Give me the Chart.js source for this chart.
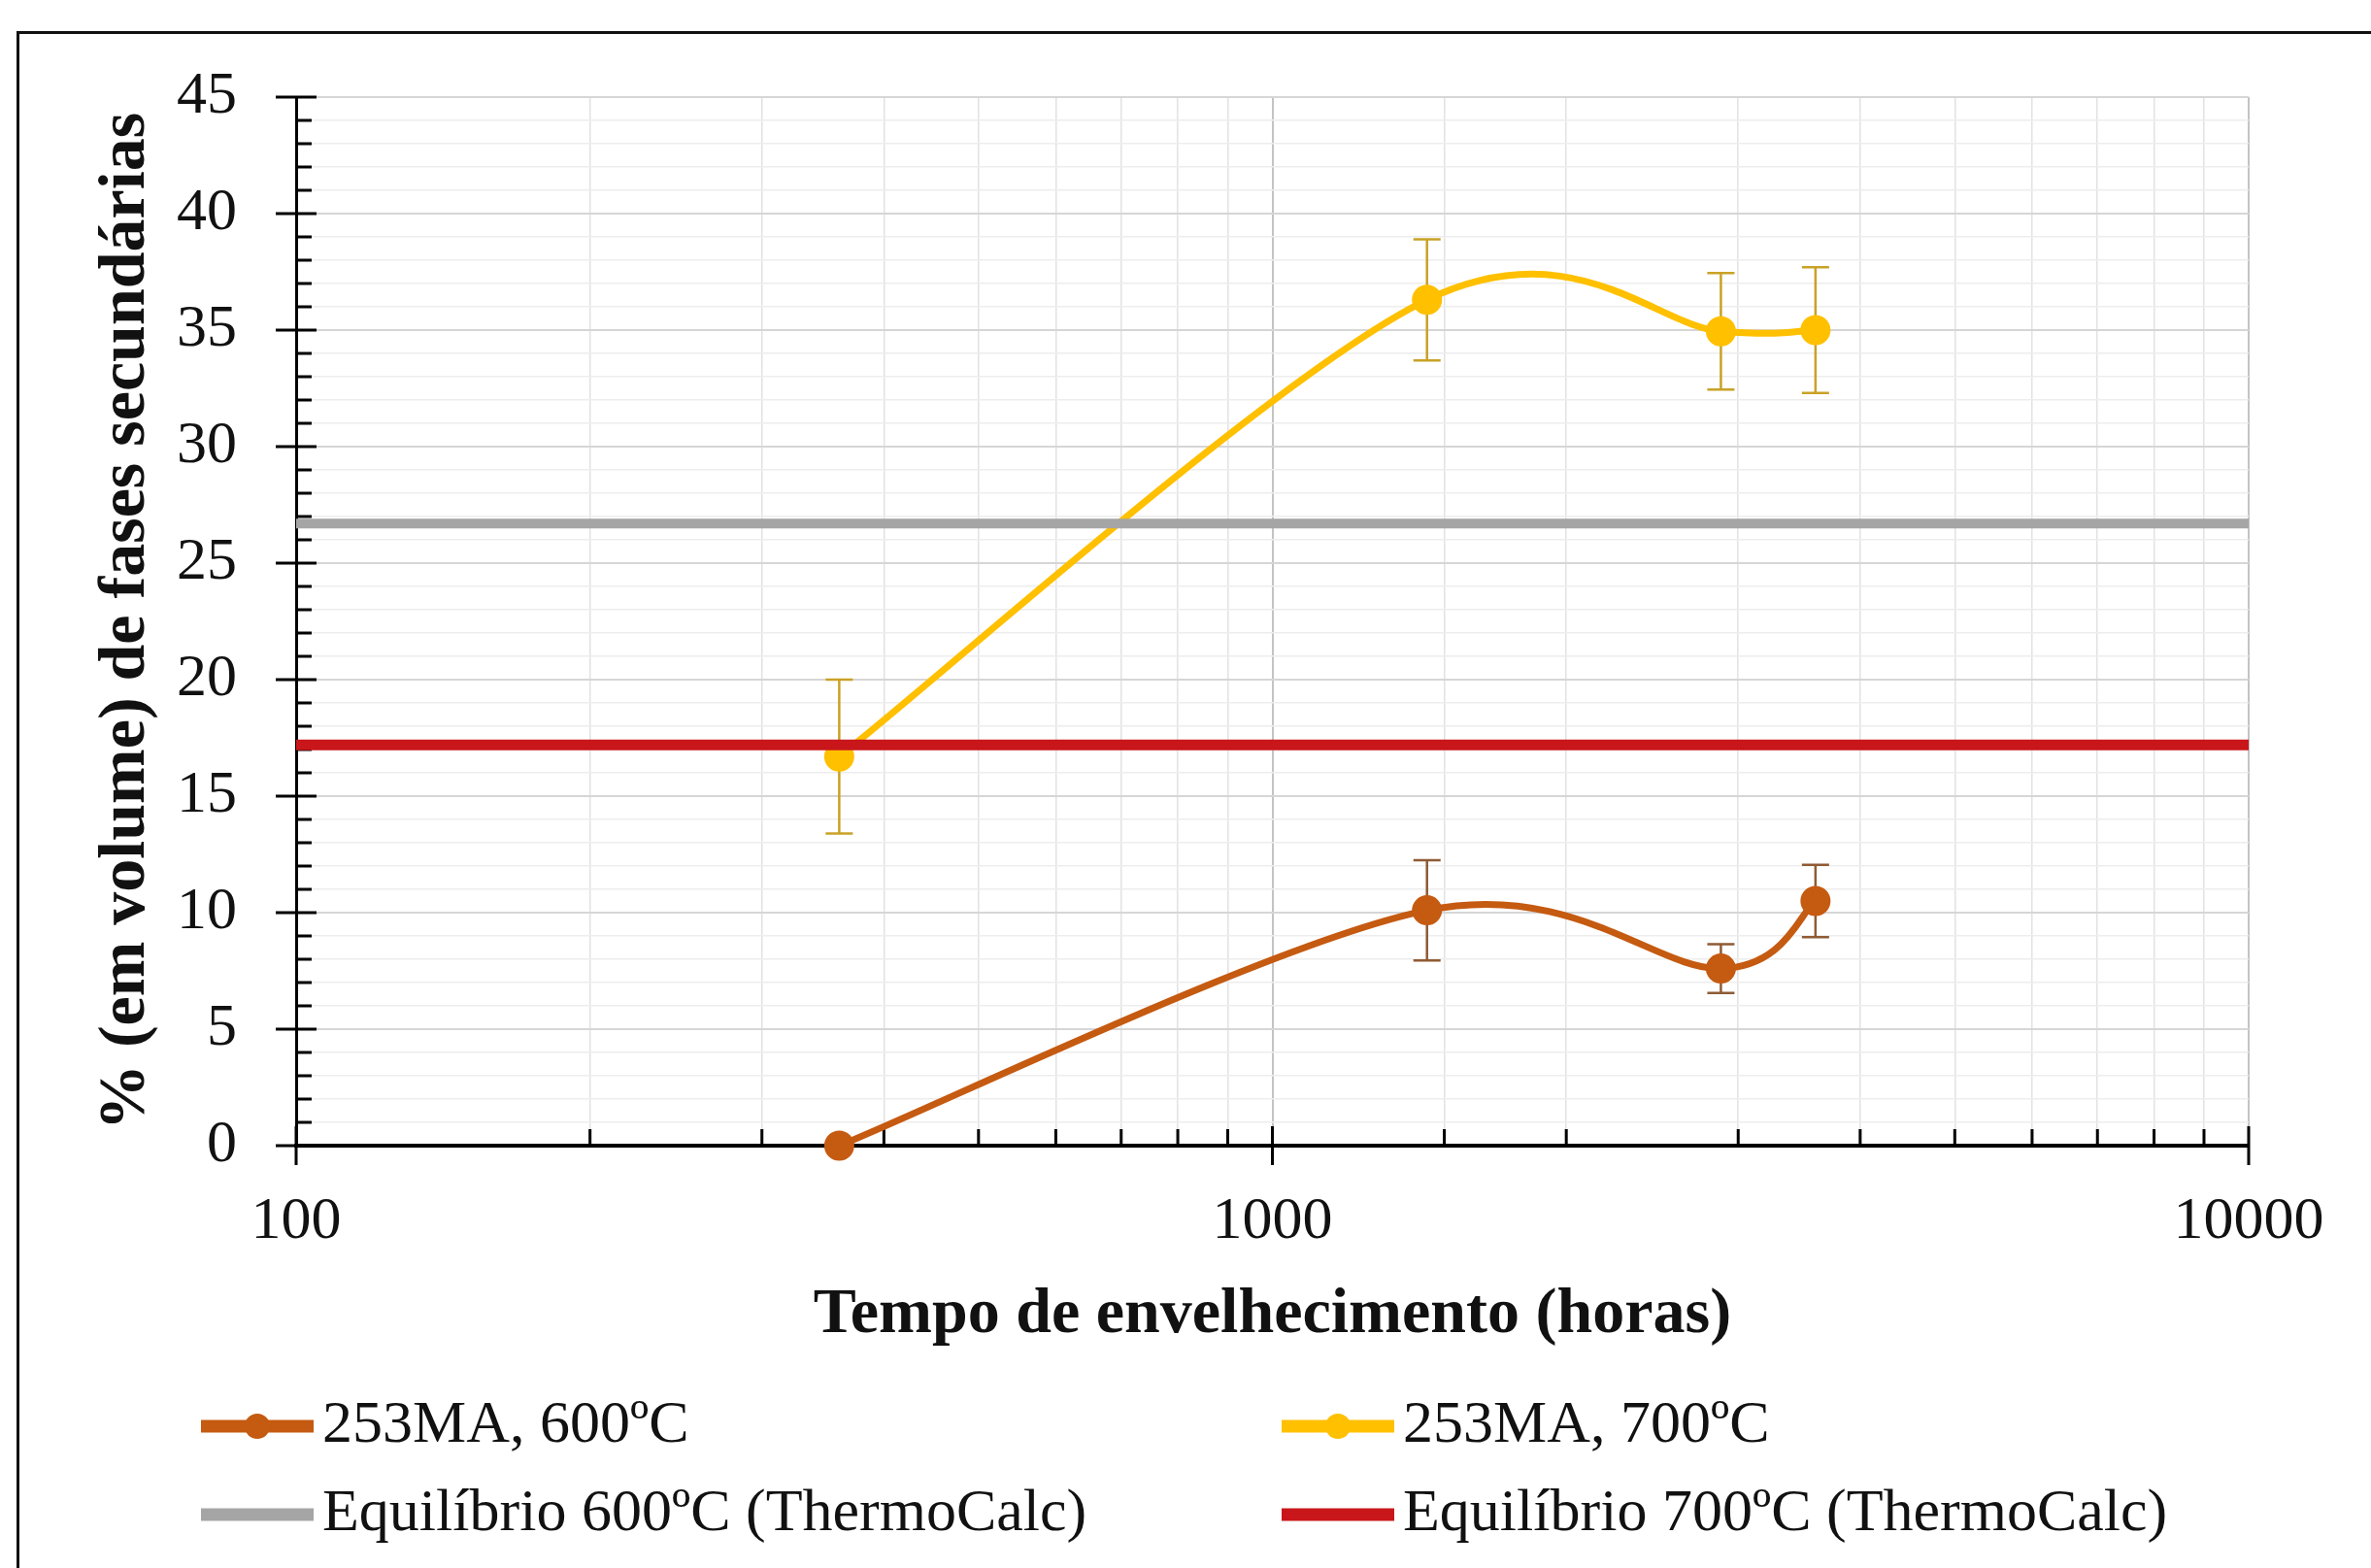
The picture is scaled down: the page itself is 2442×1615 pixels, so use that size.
<!DOCTYPE html>
<html>
<head>
<meta charset="utf-8">
<script src="https://cdn.jsdelivr.net/npm/chart.js@4/dist/chart.umd.min.js"></script>
<style>
html,body{margin:0;padding:0;background:#fff;}
canvas{display:block;}
</style>
</head>
<body>
<canvas id="c" width="2442" height="1615" style="width:2442px;height:1615px"></canvas>
<script>
// ---- data ----
const hours = [360, 1440, 2880, 3600];
const values600 = [0, 10.1, 7.6, 10.5];
const errors600 = [0, 2.15, 1.05, 1.55];
const values700 = [16.7, 36.3, 34.95, 35.0];
const errors700 = [3.3, 2.6, 2.5, 2.7];
const eqHours = [100, 10000];
const eq600 = [26.7, 26.7];
const eq700 = [17.2, 17.2];
const xTickLabels = [100, 1000, 10000];
const yTickLabels = [0, 5, 10, 15, 20, 25, 30, 35, 40, 45];
const seriesNames = ['253MA, 600ºC', '253MA, 700ºC', 'Equilíbrio 600ºC (ThermoCalc)', 'Equilíbrio 700ºC (ThermoCalc)'];
const xTitle = 'Tempo de envelhecimento (horas)';
const yTitle = '% (em volume) de fases secundárias';

const FONT = 'Liberation Serif';
const toPts = (xs, ys) => xs.map((x, i) => ({x: x, y: ys[i]}));
const isPow10 = v => Math.abs(Math.log10(v) - Math.round(Math.log10(v))) < 1e-9;

const bgBorderPlugin = {
  id: 'bgBorder',
  beforeDraw(chart) {
    const ctx = chart.ctx;
    ctx.save();
    ctx.fillStyle = '#fff';
    ctx.fillRect(0, 0, chart.width, chart.height);
    ctx.strokeStyle = '#111';
    ctx.lineWidth = 3;
    ctx.beginPath();
    ctx.moveTo(18.5, chart.height + 5);
    ctx.lineTo(18.5, 33.5);
    ctx.lineTo(chart.width + 5, 33.5);
    ctx.stroke();
    ctx.restore();
  }
};

// Excel-like smoothing (uniform Catmull-Rom control points, computed from the scaled points)
const excelSmoothPlugin = {
  id: 'excelSmooth',
  beforeDatasetDraw(chart, args) {
    const ds = chart.data.datasets[args.index];
    if (!ds.excelSmooth) return;
    const meta = args.meta;
    meta.dataset.updateControlPoints(chart.chartArea, 'x');
    const pts = meta.data;
    const n = pts.length;
    for (let i = 0; i < n; i++) {
      const p = pts[i];
      const prev = pts[Math.max(0, i - 1)], next = pts[Math.min(n - 1, i + 1)];
      const dx = (next.x - prev.x) / 6, dy = (next.y - prev.y) / 6;
      p.cp1x = p.x - dx; p.cp1y = p.y - dy;
      p.cp2x = p.x + dx; p.cp2y = p.y + dy;
    }
  }
};

const ticksPlugin = {
  id: 'tickMarks',
  beforeDatasetsDraw(chart) {
    const ctx = chart.ctx;
    const xs = chart.scales.x, ys = chart.scales.y;
    const a = chart.chartArea;
    ctx.save();
    ctx.strokeStyle = '#000';
    ctx.lineWidth = 3;
    ctx.beginPath();
    ys.ticks.forEach(t => {
      const py = ys.getPixelForValue(t.value);
      if (yTickLabels.includes(t.value)) { ctx.moveTo(a.left - 21, py); ctx.lineTo(a.left + 21, py); }
      else { ctx.moveTo(a.left, py); ctx.lineTo(a.left + 16, py); }
    });
    xs.ticks.forEach(t => {
      const px = xs.getPixelForValue(t.value);
      if (isPow10(t.value)) { ctx.moveTo(px, a.bottom - 20); ctx.lineTo(px, a.bottom + 20); }
      else { ctx.moveTo(px, a.bottom - 17); ctx.lineTo(px, a.bottom); }
    });
    ctx.stroke();
    ctx.restore();
  }
};

const errorBarPlugin = {
  id: 'errorBars',
  beforeDatasetsDraw(chart) {
    const ctx = chart.ctx;
    const xs = chart.scales.x, ys = chart.scales.y;
    ctx.save();
    chart.data.datasets.forEach(ds => {
      if (!ds.errors) return;
      ctx.strokeStyle = ds.errorColor;
      ctx.lineWidth = 2.5;
      ds.data.forEach((p, i) => {
        const e = ds.errors[i];
        if (!e) return;
        const px = xs.getPixelForValue(p.x);
        const top = ys.getPixelForValue(p.y + e);
        const bot = ys.getPixelForValue(p.y - e);
        ctx.beginPath();
        ctx.moveTo(px, top); ctx.lineTo(px, bot);
        ctx.moveTo(px - 14, top); ctx.lineTo(px + 14, top);
        ctx.moveTo(px - 14, bot); ctx.lineTo(px + 14, bot);
        ctx.stroke();
      });
    });
    ctx.restore();
  }
};

const legendPlugin = {
  id: 'gridLegend',
  afterDraw(chart) {
    const ctx = chart.ctx;
    const colX = [207, 1320];
    const rowY = [1469, 1560];
    const sampleLen = 116;
    ctx.save();
    chart.data.datasets.forEach((ds, i) => {
      const x0 = colX[i % 2], y = rowY[Math.floor(i / 2)];
      ctx.strokeStyle = ds.borderColor;
      ctx.lineWidth = 13;
      ctx.lineCap = 'butt';
      ctx.beginPath();
      ctx.moveTo(x0, y); ctx.lineTo(x0 + sampleLen, y);
      ctx.stroke();
      if (ds.pointRadius > 0) {
        ctx.fillStyle = ds.pointBackgroundColor;
        ctx.beginPath();
        ctx.arc(x0 + sampleLen / 2, y, 13, 0, Math.PI * 2);
        ctx.fill();
      }
      ctx.fillStyle = '#111';
      ctx.font = '62px "' + FONT + '"';
      ctx.textBaseline = 'middle';
      ctx.textAlign = 'left';
      ctx.fillText(ds.label, x0 + sampleLen + 9, y);
    });
    ctx.restore();
  }
};

const datasets = [
  {
    label: seriesNames[0], data: toPts(hours, values600), errors: errors600, errorColor: '#8F5B34',
    borderColor: '#C55A11', backgroundColor: '#C55A11', pointBackgroundColor: '#C55A11', pointBorderColor: '#C55A11',
    borderWidth: 7, pointRadius: 12, pointHoverRadius: 12, tension: 0.4, excelSmooth: true, order: 3, clip: false
  },
  {
    label: seriesNames[1], data: toPts(hours, values700), errors: errors700, errorColor: '#C9A227',
    borderColor: '#FFC000', backgroundColor: '#FFC000', pointBackgroundColor: '#FFC000', pointBorderColor: '#FFC000',
    borderWidth: 7, pointRadius: 12, pointHoverRadius: 12, tension: 0.4, excelSmooth: true, order: 2, clip: false
  },
  {
    label: seriesNames[2], data: toPts(eqHours, eq600),
    borderColor: '#A5A5A5', backgroundColor: '#A5A5A5', pointBackgroundColor: '#A5A5A5',
    borderWidth: 10, pointRadius: 0, pointHoverRadius: 0, tension: 0, order: 1
  },
  {
    label: seriesNames[3], data: toPts(eqHours, eq700),
    borderColor: '#C8161B', backgroundColor: '#C8161B', pointBackgroundColor: '#C8161B',
    borderWidth: 11, pointRadius: 0, pointHoverRadius: 0, tension: 0, order: 0
  }
];

new Chart(document.getElementById('c'), {
  type: 'line',
  data: { datasets: datasets },
  plugins: [bgBorderPlugin, excelSmoothPlugin, ticksPlugin, errorBarPlugin, legendPlugin],
  options: {
    responsive: false,
    devicePixelRatio: 1,
    animation: false,
    events: [],
    layout: { padding: { left: 0, top: 100, right: 126, bottom: 215 } },
    plugins: { legend: { display: false }, tooltip: { enabled: false } },
    scales: {
      x: {
        type: 'logarithmic', min: 100, max: 10000, position: 'bottom',
        afterFit(s) { s.height = 220; },
        ticks: {
          autoSkip: false, maxRotation: 0, minRotation: 0, padding: 42, color: '#111',
          font: { family: FONT, size: 62 },
          callback: v => (xTickLabels.some(t => Math.abs(t - v) < 1e-6) ? String(v) : '')
        },
        grid: {
          drawTicks: false,
          color: c => (c.tick && isPow10(c.tick.value) ? '#C4C4C4' : '#E2E2E2'),
          lineWidth: c => (c.tick && isPow10(c.tick.value) ? 2 : 1.5)
        },
        border: { display: true, color: '#000', width: 4 },
        title: {
          display: true, text: xTitle, color: '#111',
          font: { family: FONT, size: 66, weight: 'bold' },
          padding: { top: 0, bottom: 5 }
        }
      },
      y: {
        type: 'linear', min: 0, max: 45,
        afterFit(s) { s.width = 305; },
        ticks: {
          stepSize: 1, maxTicksLimit: 100, autoSkip: false, padding: 61, color: '#111',
          font: { family: FONT, size: 62 },
          callback: v => (yTickLabels.includes(v) ? String(v) : '')
        },
        grid: {
          drawTicks: false,
          color: c => (c.tick && c.tick.value % 5 === 0 ? '#D6D6D6' : '#EDEDED'),
          lineWidth: c => (c.tick && c.tick.value % 5 === 0 ? 2 : 1.5)
        },
        border: { display: true, color: '#000', width: 3 },
        title: {
          display: true, text: yTitle, color: '#111',
          font: { family: FONT, size: 68, weight: 'bold' },
          padding: { top: 90, bottom: 0 }
        }
      }
    }
  }
});
</script>
</body>
</html>
